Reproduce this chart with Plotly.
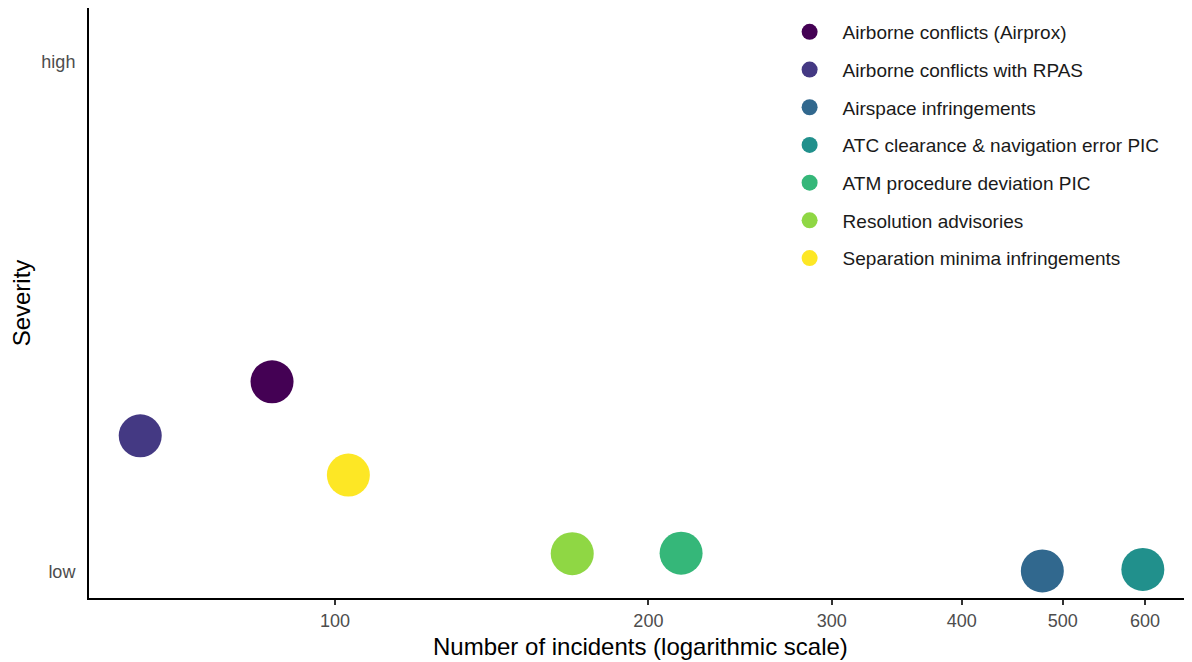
import plotly.graph_objects as go

categories = [
    "Airborne conflicts (Airprox)",
    "Airborne conflicts with RPAS",
    "Airspace infringements",
    "ATC clearance & navigation error PIC",
    "ATM procedure deviation PIC",
    "Resolution advisories",
    "Separation minima infringements",
]
incidents = [87, 65, 478, 597, 215, 169, 103]
severity = [0.373, 0.267, 0.002, 0.005, 0.037, 0.036, 0.190]
colors = ["#440154", "#443983", "#31688E", "#21908C", "#35B779", "#8FD744", "#FDE725"]

x_tickvals = [100, 200, 300, 400, 500, 600]
y_tickvals = [0, 1]
y_ticktext = ["low", "high"]

x_title = "Number of incidents (logarithmic scale)"
y_title = "Severity"

FONT = "Liberation Sans, Arial, sans-serif"

fig = go.Figure()
for name, xv, yv, c in zip(categories, incidents, severity, colors):
    fig.add_trace(go.Scatter(
        x=[xv], y=[yv], mode="markers", name=name, legendgroup=name,
        marker=dict(size=43, color=c, line=dict(width=0)),
    ))

fig.add_annotation(
    text=x_title, xref="paper", yref="paper", x=0.5, y=-0.0814,
    xanchor="center", yanchor="middle", showarrow=False,
    font=dict(size=24, color="black", family=FONT),
)

fig.update_layout(
    width=1184, height=654,
    autosize=False,
    plot_bgcolor="white", paper_bgcolor="white",
    margin=dict(l=81, r=0, t=0, b=64, pad=0),
    font=dict(family=FONT),
    showlegend=True,
    legend=dict(
        x=0.6234, y=0.9915, xanchor="left", yanchor="top",
        font=dict(size=19, color="#1a1a1a", family=FONT),
        bgcolor="rgba(0,0,0,0)",
        tracegroupgap=10,
        itemsizing="trace",
        itemwidth=56,
    ),
    xaxis=dict(
        type="log",
        range=[1.7637, 2.8232],
        tickvals=x_tickvals,
        ticktext=[str(v) for v in x_tickvals],
        ticks="outside", ticklen=5, tickwidth=2, tickcolor="#333333",
        tickfont=dict(size=18, color="#4d4d4d"),
        showline=True, linecolor="black", linewidth=2,
        showgrid=False, zeroline=False, automargin=False,
    ),
    yaxis=dict(
        range=[-0.051, 1.106],
        tickvals=y_tickvals, ticktext=y_ticktext,
        ticks="", tickfont=dict(size=18, color="#4d4d4d"),
        ticklabelstandoff=8,
        showline=True, linecolor="black", linewidth=2,
        showgrid=False, zeroline=False, automargin=False,
        title=dict(text=y_title, font=dict(size=24, color="black"), standoff=12),
    ),
)

fig.write_html("out.html", config={"responsive": False})
